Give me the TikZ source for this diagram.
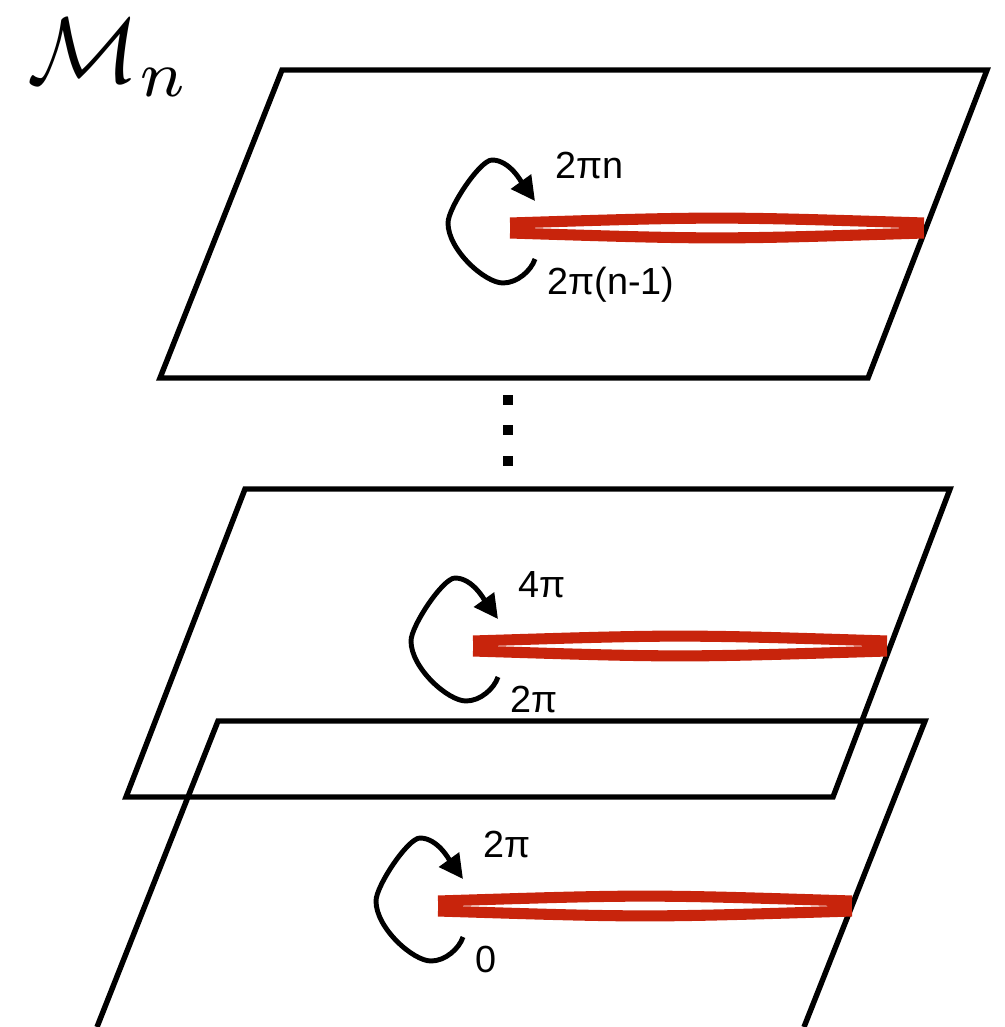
\documentclass[tikz,border=0pt]{standalone}
\usepackage{fontspec}
\setmainfont{Liberation Sans}
\usetikzlibrary{arrows.meta,calc}
\definecolor{cutred}{RGB}{200,36,12}

\begin{document}
\begin{tikzpicture}[x=0.02cm,y=-0.02cm,
		sheet/.style={line width=3.1pt,line join=miter},
		cut/.style={cutred,line width=6.3pt},
		turn/.style={line width=2.8pt,-{Triangle[length=0.48cm,width=0.48cm]}},
		phase/.style={anchor=base west,inner sep=0pt,font=\fontsize{21.5}{25}\selectfont}]
	\useasboundingbox (0,0) rectangle (1004,1027);
	\node[scale=5.3,inner sep=0pt] (manifold) at (109,58) {$\mathcal{M}_n$};
	% the sheets
	\draw[sheet] (282,70) -- (987,70) -- (868,378) -- (160,378) -- cycle;
	\draw[sheet] (245,489) -- (950,489) -- (833,797) -- (126,797) -- cycle;
	\draw[sheet] (97,1027) -- (218,721) -- (925,721) -- (804,1027);
	\foreach \y in {400,430,461} \fill (503,\y-5) rectangle (513,\y+5);
	% branch cut and winding on each sheet
	\foreach \cx/\cy/\i/\up/\down in {510/228/1/2πn/2π(n-1),473/646/2/4π/2π,438/906/3/2π/0} {
		\path (\cx,\cy) coordinate (c\i);
		\begin{scope}[shift={(c\i)}]
			\draw[cut] (0,-5) .. controls (207,-11.5) .. (414,-5);
			\draw[cut] (0,5) .. controls (207,11.5) .. (414,5);
			\draw[turn] (25,31) .. controls (21,43) and (7,55) .. (-7,55)
				.. controls (-25,55) and (-62,22) .. (-62,-5)
				.. controls (-62,-20) and (-30,-68) .. (-18,-68)
				.. controls (0,-68) and (12,-45) .. (25,-27);
			\node[phase] (up\i) at (45,-49) {\up};
			\node[phase] (down\i) at (37,66) {\down};
		\end{scope}
	}
\end{tikzpicture}
\end{document}
